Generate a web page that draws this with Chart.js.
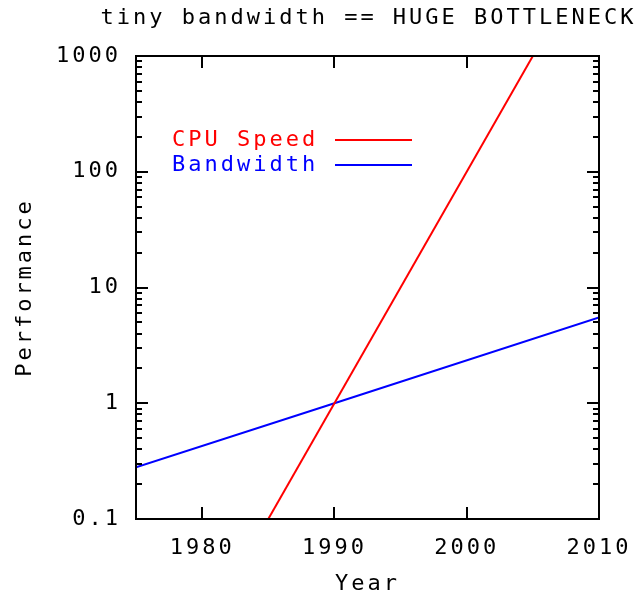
<!DOCTYPE html>
<html>
<head>
<meta charset="utf-8">
<script src="https://cdn.jsdelivr.net/npm/chart.js@4"></script>
<style>
  html, body { margin: 0; padding: 0; background: #fff; }
  canvas { display: block; }
</style>
</head>
<body>
<canvas id="chart" width="638" height="594"></canvas>
<script>
// values
var chartTitle = 'tiny bandwidth == HUGE BOTTLENECK';
var cpuYears = [1985, 2005];
var cpuSpeed = [0.1, 1000];
var bwYears = [1975, 1990, 2010];
var bwValues = [0.28, 1, 5.5];
var xTickValues = [1980, 1990, 2000, 2010];
var yTickValues = [0.1, 1, 10, 100, 1000];

var FONT = '"DejaVu Sans Mono", "Liberation Mono", monospace';

function points(xs, ys) {
    return xs.map(function(x, i) { return { x: x, y: ys[i] }; });
}

// gnuplot's pixel font is widely spaced
var spacing = {
    id: 'spacing',
    beforeLayout: function(chart) { chart.ctx.letterSpacing = '3px'; },
    beforeDraw: function(chart) { chart.ctx.letterSpacing = '3px'; }
};

// title over the plot, border with inward ticks on all four sides, and the key
var frame = {
    id: 'frame',
    afterDatasetsDraw: function(chart) {
        var ctx = chart.ctx, a = chart.chartArea;
        var xs = chart.scales.x, ys = chart.scales.y;
        ctx.save();
        ctx.font = '22px ' + FONT;
        ctx.textBaseline = 'middle';
        ctx.textAlign = 'center';
        ctx.fillStyle = '#000';
        ctx.fillText(chartTitle, (a.left + a.right) / 2 + 1, 18);

        ctx.strokeStyle = '#000';
        ctx.lineWidth = 2;
        ctx.beginPath();
        xTickValues.forEach(function(v) {
            var px = Math.round(xs.getPixelForValue(v));
            ctx.moveTo(px, a.bottom); ctx.lineTo(px, a.bottom - 12);
            ctx.moveTo(px, a.top); ctx.lineTo(px, a.top + 12);
        });
        yTickValues.forEach(function(v, i) {
            var py = Math.round(ys.getPixelForValue(v));
            ctx.moveTo(a.left, py); ctx.lineTo(a.left + 12, py);
            ctx.moveTo(a.right, py); ctx.lineTo(a.right - 12, py);
            if (i < yTickValues.length - 1) {
                for (var k = 2; k <= 9; k++) {
                    var pm = Math.round(ys.getPixelForValue(v * k));
                    ctx.moveTo(a.left, pm); ctx.lineTo(a.left + 6, pm);
                    ctx.moveTo(a.right, pm); ctx.lineTo(a.right - 6, pm);
                }
            }
        });
        ctx.stroke();
        ctx.strokeRect(a.left, a.top, a.right - a.left, a.bottom - a.top);

        // key
        ctx.textAlign = 'left';
        ctx.lineWidth = 2;
        chart.data.datasets.forEach(function(ds, i) {
            var y = 140 + i * 25;
            ctx.fillStyle = ds.borderColor;
            ctx.fillText(ds.label, 172, y);
            ctx.strokeStyle = ds.borderColor;
            ctx.beginPath();
            ctx.moveTo(335, y); ctx.lineTo(412, y);
            ctx.stroke();
        });
        ctx.restore();
    }
};

new Chart(document.getElementById('chart'), {
    type: 'line',
    data: {
        datasets: [{
            label: 'CPU Speed',
            data: points(cpuYears, cpuSpeed),
            borderColor: '#ff0000',
            borderWidth: 2,
            pointRadius: 0,
            tension: 0
        }, {
            label: 'Bandwidth',
            data: points(bwYears, bwValues),
            borderColor: '#0000ff',
            borderWidth: 2,
            pointRadius: 0,
            tension: 0
        }]
    },
    options: {
        responsive: false,
        animation: false,
        layout: { padding: { left: 0, right: 39, top: 56, bottom: 0 } },
        plugins: {
            legend: { display: false },
            tooltip: { enabled: false },
            title: { display: false }
        },
        scales: {
            x: {
                type: 'linear',
                min: 1975,
                max: 2010,
                afterBuildTicks: function(scale) {
                    scale.ticks = xTickValues.map(function(v) { return { value: v }; });
                },
                afterFit: function(scale) {
                    scale.height = 75;
                    scale.paddingLeft = 0;
                    scale.paddingRight = 0;
                },
                ticks: {
                    color: '#000',
                    font: { family: FONT, size: 22 },
                    padding: 16,
                    maxRotation: 0,
                    autoSkip: false,
                    callback: function(v) { return String(v); }
                },
                grid: { display: false, drawTicks: false },
                border: { display: false },
                title: {
                    display: true,
                    text: 'Year',
                    color: '#000',
                    font: { family: FONT, size: 22 },
                    padding: { top: 0, bottom: -3 }
                }
            },
            y: {
                type: 'logarithmic',
                min: 0.1,
                max: 1000,
                afterBuildTicks: function(scale) {
                    scale.ticks = yTickValues.map(function(v) { return { value: v }; });
                },
                afterFit: function(scale) {
                    scale.width = 136;
                    scale.paddingTop = 0;
                    scale.paddingBottom = 0;
                },
                ticks: {
                    color: '#000',
                    font: { family: FONT, size: 22 },
                    padding: 15,
                    autoSkip: false,
                    callback: function(v) { return String(v); }
                },
                grid: { display: false, drawTicks: false },
                border: { display: false },
                title: {
                    display: true,
                    text: 'Performance',
                    color: '#000',
                    font: { family: FONT, size: 22 },
                    padding: { top: 12, bottom: 0 }
                }
            }
        }
    },
    plugins: [spacing, frame]
});
</script>
</body>
</html>
